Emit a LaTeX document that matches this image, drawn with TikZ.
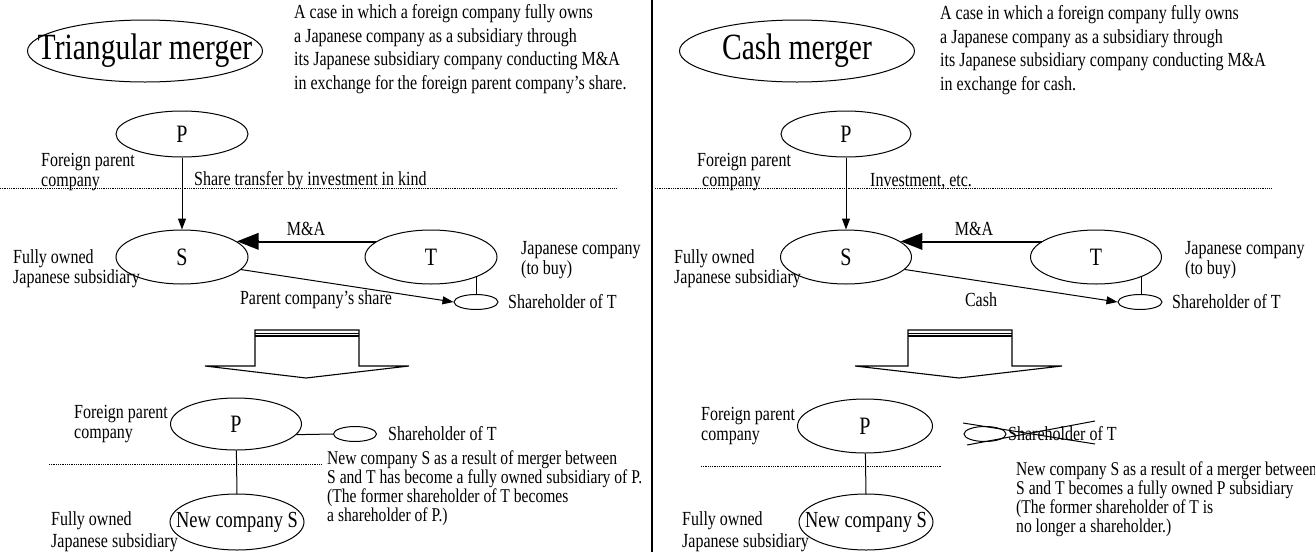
\documentclass[tikz,border=0pt]{standalone}
\usepackage{fontspec}
\setmainfont{Liberation Serif}[FakeStretch=0.8]
\usetikzlibrary{arrows.meta,
	shapes.geometric}

\begin{document}
\begin{tikzpicture}[x=1pt,y=-1pt]
    \tikzstyle{firm}=[ellipse,draw,line width=1pt,inner sep=0pt,minimum width=132pt,minimum height=54pt,font=\fontsize{25}{25}\selectfont]
    \tikzstyle{headline}=[inner sep=0pt,font=\fontsize{37}{37}\selectfont]
    \tikzstyle{holder}=[ellipse,draw,line width=1pt,inner sep=0pt,minimum width=44pt,minimum height=15pt]
    \tikzstyle{txt}=[anchor=west,inner sep=0pt,align=left,font=\fontsize{20}{20}\selectfont]
    \tikzstyle{desc}=[anchor=west,inner sep=0pt,align=left,font=\fontsize{20}{23.5}\selectfont]
    \tikzstyle{arr}=[line width=1pt,-{Triangle[length=11pt,width=8pt]}]
    \tikzstyle{mna}=[line width=3.6pt,-{Triangle[length=22pt,width=16pt]}]
    \tikzstyle{dotline}=[line width=0.5pt,dash pattern=on 0.6pt off 1.2pt]
    \useasboundingbox (0,0) rectangle (1315,552);

    % left half
    \node[headline] (title_1) at (145,51) {Triangular merger};
    \draw[line width=1pt] (title_1.center) ellipse [x radius=117.5, y radius=31];
    \node[desc] (desc_1) at (294,49) {A case in which a foreign company fully owns\\a Japanese company as a subsidiary through\\its Japanese subsidiary company conducting M\&A\\in exchange for the foreign parent company's share.};
    \node[firm,minimum height=46pt] (P_1) at (182,134) {P};
    \node[txt] (fp_1) at (41,172) {Foreign parent\\company};
    \node[txt] (inv_1) at (194,181) {Share transfer by investment in kind};
    \draw[dotline] (0,188) -- (616,188);
    \node[firm] (S_1) at (182,257) {S};
    \node[firm] (T_1) at (431,257) {T};
    \node[txt] (fo_1) at (13,269) {Fully owned\\Japanese subsidiary};
    \node[txt] (jc_1) at (521,260) {Japanese company\\(to buy)};
    \node[font=\fontsize{20}{20}\selectfont] (ma_1) at (306,229) {M\&A};
    \node[holder] (sh_1) at (476,302) {};
    \node[txt] (sht_1) at (508,302) {Shareholder of T};
    \node[font=\fontsize{20}{20}\selectfont] (pcs_1) at (316,300) {Parent company's share};
    \draw[arr] (P_1) -- (S_1);
    \draw[mna] (T_1.164) -- (S_1.16);
    \draw[white,line width=0.6pt] ([yshift=0.9pt]T_1.164) -- ([yshift=0.9pt,xshift=22pt]S_1.16);
    \draw[line width=1pt] (T_1.-24) -- (T_1.-24 |- sh_1.north);
    \draw[arr] (S_1.-12) -- (sh_1.west);
    \draw[line width=1.1pt] (255,366) -- (205,366) -- (306,378) -- (409,366) -- (359,366) -- (359,330) -- (255,330) -- cycle;
    \draw[line width=0.9pt] (255,333) -- (359,333);
    \draw[line width=1.1pt] (255,336) -- (359,336);
    \node[firm,minimum width=131pt,minimum height=52pt] (Pn_1) at (236,424) {P};
    \node[txt] (fpn_1) at (74,424) {Foreign parent\\company};
    \node[holder,minimum width=43pt] (shn_1) at (355,434) {};
    \node[txt] (shnt_1) at (388,434) {Shareholder of T};
    \draw[dotline] (49,464) -- (321,464);
    \node[inner sep=0pt,font=\fontsize{23}{23}\selectfont] (NS_1) at (237,522) {New company S};
    \draw[line width=1pt] (NS_1.center) ellipse [x radius=67, y radius=28];
    \node[txt,font=\fontsize{20}{22}\selectfont] (fon_1) at (51,532) {Fully owned\\Japanese subsidiary};
    \node[txt,font=\fontsize{19.5}{19}\selectfont] (res_1) at (327,488) {New company S as a result of merger between\\S and T has become a fully owned subsidiary of P.\\(The former shareholder of T becomes\\a shareholder of P.)};
    \draw[line width=1pt] (Pn_1.-10) -- (shn_1.west);
    \draw[line width=1pt] (Pn_1) -- ([yshift=28pt]NS_1.center);

    \draw[line width=1.2pt] (652,0) -- (652,552);

    % right half
    \node[headline] (title_2) at (797,51) {Cash merger};
    \draw[line width=1pt] (title_2.center) ellipse [x radius=117.5, y radius=31];
    \node[desc] (desc_2) at (940,50) {A case in which a foreign company fully owns\\a Japanese company as a subsidiary through\\its Japanese subsidiary company conducting M\&A\\in exchange for cash.};
    \node[firm,minimum width=130pt,minimum height=46pt] (P_2) at (846,134) {P};
    \node[txt] (fp_2) at (697,172) {Foreign parent\\\hspace{5pt}company};
    \node[txt] (inv_2) at (870,181) {Investment, etc.};
    \draw[dotline] (655,188) -- (1271,188);
    \node[firm,minimum width=131pt] (S_2) at (846,257) {S};
    \node[firm,minimum width=131pt] (T_2) at (1096,257) {T};
    \node[txt] (fo_2) at (674,269) {Fully owned\\Japanese subsidiary};
    \node[txt] (jc_2) at (1185,260) {Japanese company\\(to buy)};
    \node[font=\fontsize{20}{20}\selectfont] (ma_2) at (974,229) {M\&A};
    \node[holder] (sh_2) at (1140,302) {};
    \node[txt] (sht_2) at (1172,302) {Shareholder of T};
    \node[font=\fontsize{20}{20}\selectfont] (cash_2) at (981,300) {Cash};
    \draw[arr] (P_2) -- (S_2);
    \draw[mna] (T_2.164) -- (S_2.16);
    \draw[white,line width=0.6pt] ([yshift=0.9pt]T_2.164) -- ([yshift=0.9pt,xshift=22pt]S_2.16);
    \draw[line width=1pt] (T_2.-24) -- (T_2.-24 |- sh_2.north);
    \draw[arr] (S_2.-12) -- (sh_2.west);
    \draw[line width=1.1pt] (908,366) -- (855,366) -- (959,378) -- (1062,366) -- (1012,366) -- (1012,330) -- (908,330) -- cycle;
    \draw[line width=0.9pt] (908,333) -- (1012,333);
    \draw[line width=1.1pt] (908,336) -- (1012,336);
    \node[firm,minimum width=135pt,minimum height=54pt] (Pn_2) at (865,426) {P};
    \node[txt] (fpn_2) at (701,426) {Foreign parent\\company};
    \node[holder,minimum width=42pt] (shn_2) at (985,434) {};
    \node[txt] (shnt_2) at (1008,434) {Shareholder of T};
    \draw[line width=1pt] (963,423) -- (1095,444);
    \draw[line width=1pt] (967,445) -- (1095,421);
    \draw[dotline] (701,466) -- (942,466);
    \node[inner sep=0pt,font=\fontsize{23}{23}\selectfont] (NS_2) at (866,522) {New company S};
    \draw[line width=1pt] (NS_2.center) ellipse [x radius=67, y radius=28];
    \node[txt,font=\fontsize{20}{22}\selectfont] (fon_2) at (682,532) {Fully owned\\Japanese subsidiary};
    \node[txt,font=\fontsize{19.5}{19}\selectfont] (res_2) at (1016,499) {New company S as a result of a merger between\\S and T becomes a fully owned P subsidiary\\(The former shareholder of T is\\no longer a shareholder.)};
    \draw[line width=1pt] (Pn_2) -- ([yshift=28pt]NS_2.center);
\end{tikzpicture}
\end{document}
